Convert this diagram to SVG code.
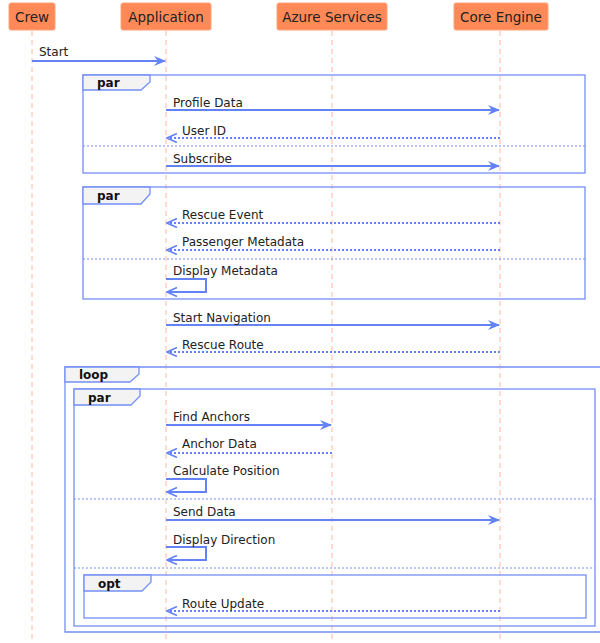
<svg xmlns="http://www.w3.org/2000/svg" width="600" height="643" viewBox="0 0 600 643">
  <style>
    .actor rect { fill: #ff8a57; stroke: #ffa27a; stroke-width: 1; }
    .actor text { font-family: "DejaVu Sans", sans-serif; font-size: 13.5px; fill: #222; text-anchor: middle; }
    .life { stroke: #ffb8a0; stroke-width: 1; stroke-dasharray: 5 4; }
    .msg { stroke: #6282f5; stroke-width: 2; fill: none; }
    .ret { stroke: #6282f5; stroke-width: 2; fill: none; stroke-dasharray: 2 2; }
    .lbl { font-family: "DejaVu Sans", sans-serif; font-size: 12px; fill: #222; }
    .frame { fill: none; stroke: #7490f6; stroke-width: 1.3; }
    .tab { fill: #f3f3f3; stroke: #7490f6; stroke-width: 1.3; }
    .tabtxt { font-family: "DejaVu Sans", sans-serif; font-size: 12px; font-weight: bold; fill: #111; }
    .sep { stroke: #7490f6; stroke-width: 1; stroke-dasharray: 2 2; }
  </style>
  <defs>
    <marker id="solid" viewBox="0 0 12 10" refX="11" refY="5" markerWidth="12" markerHeight="10" markerUnits="userSpaceOnUse" orient="auto">
      <path d="M0,0 L12,5 L0,10 L4,5 Z" fill="#6282f5"/>
    </marker>
    <marker id="open" viewBox="0 0 12 10" refX="11" refY="5" markerWidth="12" markerHeight="10" markerUnits="userSpaceOnUse" orient="auto">
      <path d="M1,0.5 L11,5 L1,9.5" fill="none" stroke="#6282f5" stroke-width="1.6"/>
    </marker>
  </defs>

  <!-- lifelines -->
  <g id="lifelines">
    <line class="life" x1="32" y1="31" x2="32" y2="643"/>
    <line class="life" x1="166" y1="31" x2="166" y2="643"/>
    <line class="life" x1="332" y1="31" x2="332" y2="643"/>
    <line class="life" x1="500" y1="31" x2="500" y2="643"/>
  </g>

  <!-- participants -->
  <g id="crew" class="actor">
    <rect x="9" y="3" width="46" height="27" rx="2"/>
    <text x="32" y="22">Crew</text>
  </g>
  <g id="application" class="actor">
    <rect x="121" y="3" width="90" height="27" rx="2"/>
    <text x="166" y="22">Application</text>
  </g>
  <g id="azure-services" class="actor">
    <rect x="277" y="3" width="110" height="27" rx="2"/>
    <text x="332" y="22">Azure Services</text>
  </g>
  <g id="core-engine" class="actor">
    <rect x="454" y="3" width="94" height="27" rx="2"/>
    <text x="501" y="22">Core Engine</text>
  </g>

  <!-- combined fragments -->
  <g id="fragments">
    <!-- par 1 -->
    <rect class="frame" x="83" y="75" width="502" height="98"/>
    <path class="tab" d="M83,75 H150 V82 L141,90 H83 Z"/>
    <text class="tabtxt" x="97" y="87">par</text>
    <line class="sep" x1="83" y1="146" x2="585" y2="146"/>

    <!-- par 2 -->
    <rect class="frame" x="83" y="187" width="502" height="112"/>
    <path class="tab" d="M83,187 H150 V194 L141,204 H83 Z"/>
    <text class="tabtxt" x="97" y="200">par</text>
    <line class="sep" x1="83" y1="259" x2="585" y2="259"/>

    <!-- loop -->
    <path class="frame" d="M601,367 H65 V632 H601"/>
    <path class="tab" d="M65,367 H139 V374 L130,382 H65 Z"/>
    <text class="tabtxt" x="79" y="379">loop</text>

    <!-- par 3 -->
    <rect class="frame" x="74" y="389" width="521" height="237"/>
    <path class="tab" d="M74,389 H140 V396 L131,405 H74 Z"/>
    <text class="tabtxt" x="88" y="402">par</text>
    <line class="sep" x1="74" y1="499" x2="595" y2="499"/>
    <line class="sep" x1="74" y1="568" x2="595" y2="568"/>

    <!-- opt -->
    <rect class="frame" x="84" y="575" width="502" height="43"/>
    <path class="tab" d="M84,575 H151 V582 L142,591 H84 Z"/>
    <text class="tabtxt" x="98" y="588">opt</text>
  </g>

  <!-- messages -->
  <g id="connectors">
    <line class="msg" x1="32" y1="61" x2="165" y2="61" marker-end="url(#solid)"/>
    <line class="msg" x1="166" y1="110" x2="499" y2="110" marker-end="url(#solid)"/>
    <line class="ret" x1="500" y1="138" x2="167" y2="138" marker-end="url(#open)"/>
    <line class="msg" x1="166" y1="166" x2="499" y2="166" marker-end="url(#solid)"/>
    <line class="ret" x1="500" y1="223" x2="167" y2="223" marker-end="url(#open)"/>
    <line class="ret" x1="500" y1="250" x2="167" y2="250" marker-end="url(#open)"/>
    <path class="msg" d="M166,279 H206 V292 H167" marker-end="url(#open)"/>
    <line class="msg" x1="166" y1="325" x2="499" y2="325" marker-end="url(#solid)"/>
    <line class="ret" x1="500" y1="352" x2="167" y2="352" marker-end="url(#open)"/>
    <line class="msg" x1="166" y1="425" x2="331" y2="425" marker-end="url(#solid)"/>
    <line class="ret" x1="332" y1="453" x2="167" y2="453" marker-end="url(#open)"/>
    <path class="msg" d="M166,479 H206 V492 H167" marker-end="url(#open)"/>
    <line class="msg" x1="166" y1="520" x2="499" y2="520" marker-end="url(#solid)"/>
    <path class="msg" d="M166,547 H206 V560 H167" marker-end="url(#open)"/>
    <line class="ret" x1="500" y1="611" x2="167" y2="611" marker-end="url(#open)"/>
  </g>

  <!-- message labels -->
  <g id="labels">
    <text class="lbl" x="39" y="56">Start</text>
    <text class="lbl" x="173" y="107">Profile Data</text>
    <text class="lbl" x="182" y="135">User ID</text>
    <text class="lbl" x="173" y="163">Subscribe</text>
    <text class="lbl" x="182" y="219">Rescue Event</text>
    <text class="lbl" x="182" y="246">Passenger Metadata</text>
    <text class="lbl" x="173" y="275">Display Metadata</text>
    <text class="lbl" x="173" y="322">Start Navigation</text>
    <text class="lbl" x="182" y="349">Rescue Route</text>
    <text class="lbl" x="173" y="421">Find Anchors</text>
    <text class="lbl" x="182" y="448">Anchor Data</text>
    <text class="lbl" x="173" y="475">Calculate Position</text>
    <text class="lbl" x="173" y="516">Send Data</text>
    <text class="lbl" x="173" y="544">Display Direction</text>
    <text class="lbl" x="182" y="608">Route Update</text>
  </g>
</svg>
